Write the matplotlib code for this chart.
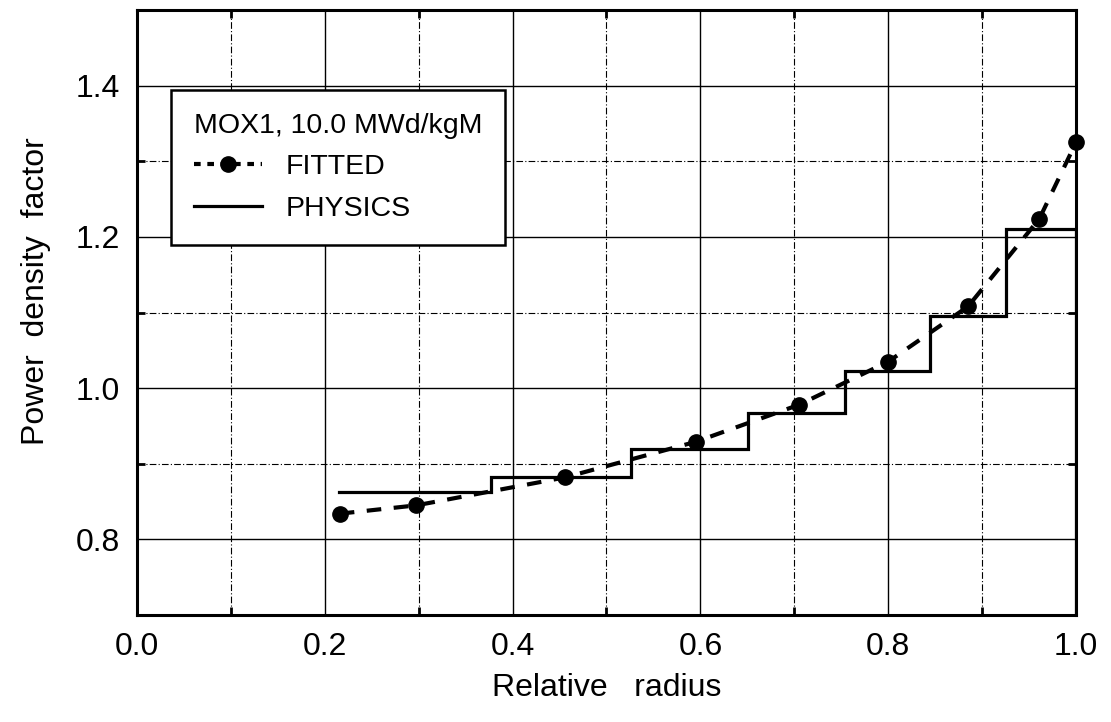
import matplotlib
matplotlib.use("Agg")
import matplotlib.pyplot as plt
from matplotlib.ticker import MultipleLocator
from matplotlib.lines import Line2D

plt.rcParams['font.family'] = ['Liberation Sans', 'DejaVu Sans']

# FITTED points
fit_r = [0.216, 0.2975, 0.456, 0.595, 0.705, 0.800, 0.885, 0.961, 1.0]
fit_v = [0.834, 0.845, 0.882, 0.929, 0.978, 1.035, 1.108, 1.224, 1.325]

# PHYSICS step function (ring edges and ring values)
phys_edges = [0.215, 0.377, 0.526, 0.651, 0.754, 0.844, 0.925, 1.0]
phys_vals = [0.862, 0.882, 0.920, 0.967, 1.023, 1.095, 1.210]
phys_edge_drop = 0.0

legend_title = "MOX1, 10.0 MWd/kgM"

fig = plt.figure(figsize=(11.11, 7.22), dpi=100)
ax = fig.add_axes([0.1233, 0.1482, 0.8452, 0.8379])

ax.set_xlim(0.0, 1.0)
ax.set_ylim(0.7, 1.5)

ax.xaxis.set_major_locator(MultipleLocator(0.2))
ax.xaxis.set_minor_locator(MultipleLocator(0.1))
ax.yaxis.set_major_locator(MultipleLocator(0.2))
ax.yaxis.set_minor_locator(MultipleLocator(0.1))
ax.set_yticks([0.8, 1.0, 1.2, 1.4])

ax.grid(which='major', color='black', linestyle='-', linewidth=1.0)
ax.grid(which='minor', color='black', linestyle='-.', linewidth=0.8, dashes=(6, 2, 1, 2))
ax.set_axisbelow(True)

# physics steps
ax.step(phys_edges + [phys_edges[-1]], [phys_vals[0]] + phys_vals + [phys_edge_drop],
        where='pre', color='black', linewidth=2.3, solid_joinstyle='miter')

# fitted
ax.plot(fit_r, fit_v, color='black', linestyle=(0, (3.5, 3.0)), linewidth=3.0,
        marker='o', markersize=11, clip_on=False, zorder=5)

for s in ax.spines.values():
    s.set_linewidth(2.2)

ax.tick_params(which='both', direction='in', top=True, right=True, labelsize=23,
               width=2, color='black')
ax.tick_params(which='major', length=0)
ax.tick_params(axis='x', which='major', pad=12)
ax.tick_params(axis='y', which='major', pad=12)
ax.tick_params(which='minor', length=6)

ax.set_xlabel("Relative   radius", fontsize=23, labelpad=8)
ax.set_ylabel("Power  density  factor", fontsize=23, labelpad=18, y=0.536)

h_fit = Line2D([], [], color='black', linestyle=(0, (1.6, 1.6)), linewidth=3.0,
               marker='o', markersize=11)
h_phys = Line2D([], [], color='black', linestyle='-', linewidth=2.3)
leg = ax.legend([h_fit, h_phys], ["FITTED", "PHYSICS"], title=legend_title,
                loc='upper left', bbox_to_anchor=(0.036, 0.868), borderaxespad=0,
                fontsize=20.5, title_fontsize=20.5, alignment='left',
                frameon=True, fancybox=False, shadow=False, edgecolor='black',
                framealpha=1.0, handlelength=2.4, handletextpad=0.85,
                labelspacing=0.55, borderpad=0.8)
leg.get_frame().set_linewidth(1.8)
leg.set_zorder(10)

fig.savefig("out.png", dpi=100)
